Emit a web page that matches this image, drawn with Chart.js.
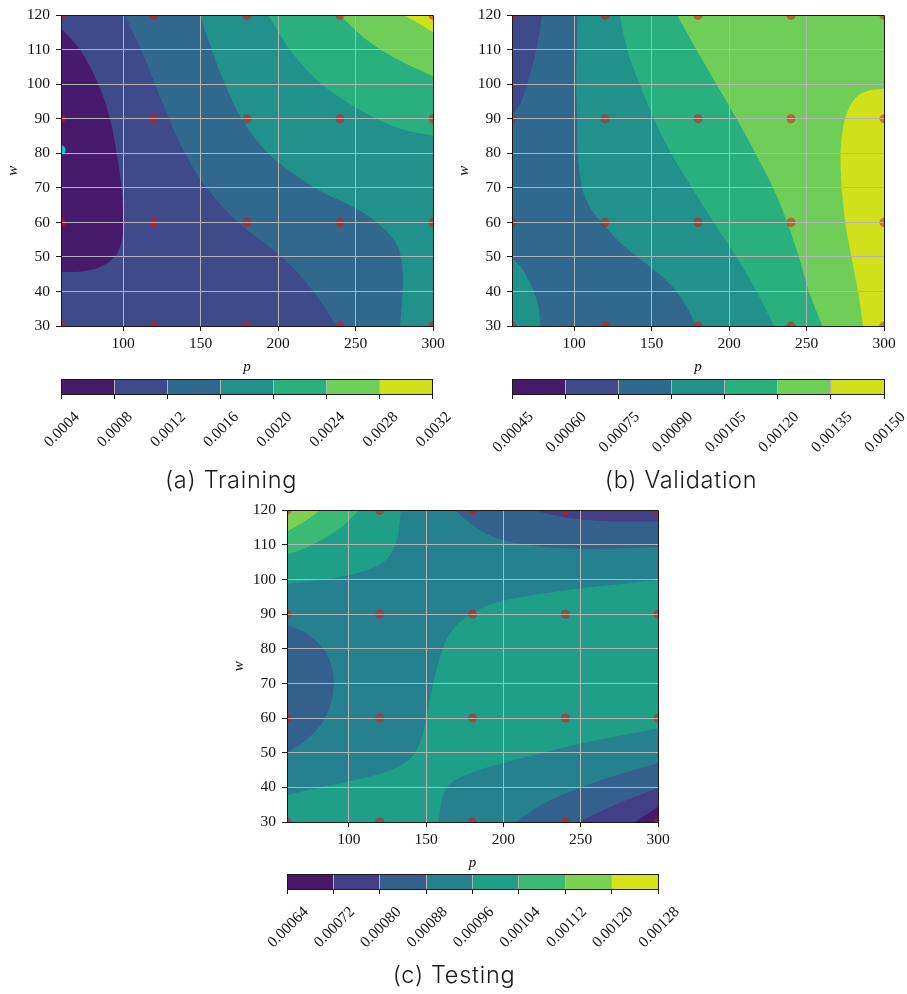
<!DOCTYPE html>
<html>
<head>
<meta charset="utf-8">
<script src="https://cdn.jsdelivr.net/npm/chart.js@4.4.1/dist/chart.umd.min.js"></script>
<style>
html,body{margin:0;padding:0;background:#fff;}
body{width:907px;height:994px;position:relative;overflow:hidden;}
canvas{position:absolute;}
.cap{position:absolute;font-family:'Inter','Open Sans',sans-serif;font-weight:300;font-size:23.5px;line-height:24px;color:#1a1a1a;white-space:nowrap;transform:translateX(-50%);letter-spacing:0.7px;}
</style>
</head>
<body>
<canvas id="pa" width="453" height="380" style="left:0px;top:0px"></canvas>
<canvas id="pb" width="456" height="380" style="left:451px;top:0px"></canvas>
<canvas id="pc" width="460" height="381" style="left:226px;top:495px"></canvas>
<canvas id="ca" width="455" height="110" style="left:0px;top:372px"></canvas>
<canvas id="cb" width="452" height="110" style="left:455px;top:372px"></canvas>
<canvas id="cc" width="460" height="110" style="left:230px;top:867px"></canvas>
<div class="cap" style="left:231px;top:468px">(a) Training</div>
<div class="cap" style="left:681px;top:468px">(b) Validation</div>
<div class="cap" style="left:454px;top:963px">(c) Testing</div>
<script>
// ---------------- data ----------------
const pSamples = [60, 120, 180, 240, 300];
const wSamples = [30, 60, 90, 120];
const bestTrain = [[60, 81]];
const pTicks = [100, 150, 200, 250, 300];
const wTicks = [30, 40, 50, 60, 70, 80, 90, 100, 110, 120];
const P_MIN = 60, P_MAX = 300, W_MIN = 30, W_MAX = 120;

const trainLevels = [0.0004, 0.0008, 0.0012, 0.0016, 0.0020, 0.0024, 0.0028, 0.0032];
const valLevels   = [0.00045, 0.00060, 0.00075, 0.00090, 0.00105, 0.00120, 0.00135, 0.00150];
const testLevels  = [0.00064, 0.00072, 0.00080, 0.00088, 0.00096, 0.00104, 0.00112, 0.00120, 0.00128];

// contour lines [p, w]
const trainC1 = [[60,116.2],[72.3,110],[84.1,100],[91.6,90],[95.9,80],[99.1,70],[100.2,60],[99.1,54.5],[94.8,50.2],[86.2,47.3],[73.3,45.8],[60,45.6]];
const trainC2 = [[101.3,120],[111.6,110],[120.6,100],[129.7,90],[140,80],[154,70],[174.4,60],[202.4,50],[222.8,40],[237.8,30]];
const trainC3 = [[149.7,120],[157.2,110],[165.8,100],[176.6,90],[193.8,80],[223.9,70],[249.7,64.2],[263.7,60],[275.5,54.5],[279.8,48.7],[280.4,39.9],[278.7,30]];
const trainC4 = [[193.8,120],[207.7,110],[228.2,100],[258.3,91.2],[279.8,87.1],[300,85.1]];
const trainC5 = [[240,120],[256.1,113.3],[275.5,107.6],[300,102.3]];
const trainC6 = [[280.9,120],[290.5,117.7],[300,115.1]];

const valC1  = [[79.4,120],[75.7,110],[69.7,100],[65,94],[60,91.3]];
const valC3a = [[102.4,120],[101.8,110],[101.5,100],[102,90],[102.4,80],[105.2,70],[110.6,64.2],[119.2,59.4],[131,53.6],[147.2,47.8],[162.2,42],[173,35.3],[178.4,30]];
const valC3b = [[60,49.9],[67.5,45.9],[74,40.1],[77.2,35.3],[78.3,30]];
const valC4  = [[129.5,120],[134.3,110],[142.4,100],[151.5,90],[162.7,80],[176.2,70],[190.2,60],[204.9,50],[217.8,40],[229,30]];
const valC5  = [[166.5,120],[179,110],[191.9,100],[204.9,90],[217.1,80],[228.5,70],[237.6,60],[245.1,50],[251.6,40],[260.2,30]];
const valC6  = [[300,98.8],[288.2,97.9],[280.6,95.5],[275.2,90.6],[272.4,83.4],[272,76.7],[273.1,68],[275.2,59.4],[279.1,49.7],[283.2,40.1],[286.6,30]];

const testA5 = [[133.7,120],[131.2,111.8],[124.7,106],[111.7,102.7],[88,100.3],[68.6,99.3],[60,98.8]];
const testA6 = [[106.4,120],[96.7,115.7],[83.7,111.8],[70.8,108.9],[60,107.3]];
const testA7 = [[81.6,120],[70.8,116.6],[60,113.9]];
const testB5up = [[60,37.7],[72.9,39.2],[98.8,41.6],[126.8,44.9],[139.8,48.3],[146.2,53.1],[150.6,60.8],[153.8,68.5],[158.1,76.2],[163.5,83],[172.1,87.8],[185.1,91.6],[206.6,94.5],[249.7,97.4],[300,99.8]];
const testB5lo = [[300,57],[249.7,52.6],[206.6,47.8],[180.7,44.4],[165.6,41.1],[160.3,36.7],[158.1,30]];
const testTR3 = [[168.9,120],[178.6,116.2],[193.7,112.3],[217.4,109.9],[249.7,108.9],[282.1,109.1],[300,109.4]];
const testTR2 = [[219.6,120],[232.5,118.6],[249.7,117.4],[271.3,116.8],[300,116.8]];
const testL3  = [[60,86.8],[70.8,84.9],[81.6,81],[88,76.2],[90.2,70],[88,63.7],[81.6,57.9],[70.8,53.1],[60,50]];
const testBR3 = [[207.7,30],[226,35.3],[260.5,41.6],[300,47.1]];
const testBR2 = [[248.7,30],[271.3,34.8],[300,39.8]];
const testBR1 = [[285.3,30],[300,34.3]];

// band index each region belongs to
const trainRegions = [
  {band:0, parts:[trainC1]},
  {band:2, parts:[trainC2,'BR','TR']},
  {band:3, parts:[trainC3,'BR','TR']},
  {band:4, parts:[trainC4,'TR']},
  {band:5, parts:[trainC5,'TR']},
  {band:6, parts:[trainC6,'TR']}
];
const valRegions = [
  {band:1, parts:[valC1,'TL']},
  {band:3, parts:[valC3a,'BR','TR']},
  {band:3, parts:[valC3b,'BL']},
  {band:4, parts:[valC4,'BR','TR']},
  {band:5, parts:[valC5,'BR','TR']},
  {band:6, parts:[valC6,'BR']}
];
const testRegions = [
  {band:4, parts:[testA5,'TL']},
  {band:5, parts:[testA6,'TL']},
  {band:6, parts:[testA7,'TL']},
  {band:4, parts:[testB5up,testB5lo,'BL']},
  {band:2, parts:[testTR3,'TR']},
  {band:2, parts:[testL3]},
  {band:2, parts:[testBR3,'BR']},
  {band:1, parts:[testTR2,'TR']},
  {band:1, parts:[testBR2,'BR']},
  {band:0, parts:[testBR1,'BR']}
];

// ---------------- styles ----------------
const V7 = ['#481a6c','#3e4a89','#31688e','#21918c','#2ab07f','#6ece58','#d0e11c'];
const V8 = ['#481769','#433e85','#34608d','#26818e','#1f9f88','#3bba75','#7cd250','#d8e219'];
const SERIF = "'Liberation Serif','DejaVu Serif',serif";
const TICK_SIZE = 15.5;
const FRAME = '#1a1a1a';
const GRIDC = '#b4b4b4';
const TXT = '#111';
const CORNER = {BL:[P_MIN-25,W_MIN-12], BR:[P_MAX+25,W_MIN-12], TR:[P_MAX+25,W_MAX+12], TL:[P_MIN-25,W_MAX+12]};

function ext(a, b){ return {x: a[0] + (a[0]-b[0])*0.6, y: a[1] + (a[1]-b[1])*0.6}; }
function polygonData(parts){
  const out = [];
  for (const part of parts) {
    if (typeof part === 'string') { const c = CORNER[part]; out.push({x:c[0], y:c[1]}); continue; }
    const n = part.length;
    out.push(ext(part[0], part[1]));
    for (const pt of part) out.push({x:pt[0], y:pt[1]});
    out.push(ext(part[n-1], part[n-2]));
  }
  return out;
}
function polyDS(parts, color, order, tension){
  return {data: polygonData(parts), showLine:true, fill:'shape', backgroundColor:color, borderColor:color,
          borderWidth:0, pointRadius:0, tension:tension, order:order, clip:0};
}

function makePlot(id, spec){
  const datasets = [];
  datasets.push(polyDS(['BL','BR','TR','TL'], spec.colors[spec.base], 1000, 0));
  spec.regions.forEach((r, i) => datasets.push(polyDS(r.parts, spec.colors[r.band], 900 - i, 0.35)));
  const samples = [];
  pSamples.forEach(p => wSamples.forEach(w => samples.push({x:p, y:w})));
  datasets.push({data:samples, pointRadius:4.6, backgroundColor:'rgba(255,0,0,0.5)', borderWidth:0, order:1, clip:0});
  if (spec.best) datasets.push({data:spec.best.map(b => ({x:b[0], y:b[1]})), pointRadius:4.6, backgroundColor:'#1cc3c9', borderWidth:0, order:0, clip:0});
  new Chart(document.getElementById(id), {
    type:'scatter',
    data:{datasets},
    options:{
      responsive:false, animation:false, events:[],
      layout:{padding:{left:0, right:spec.padRight, top:15, bottom:0}},
      plugins:{legend:{display:false}, tooltip:{enabled:false}},
      scales:{
        x:{type:'linear', min:P_MIN, max:P_MAX,
           afterBuildTicks: s => { s.ticks = pTicks.map(v => ({value:v})); },
           ticks:{font:{family:SERIF, size:TICK_SIZE}, color:TXT, padding:4, maxRotation:0, autoSkip:false},
           grid:{z:1, color: c => (c.tick && c.tick.value === P_MAX) ? FRAME : GRIDC, lineWidth:1, tickColor:FRAME, tickLength:5, tickWidth:1},
           border:{color:FRAME, width:1, z:2},
           title:{display:true, text:'p', font:{family:SERIF, size:15, style:'italic'}, color:TXT, padding:{top:0, bottom:4}},
           afterFit: s => { s.height = 54; }},
        y:{type:'linear', min:W_MIN, max:W_MAX,
           afterBuildTicks: s => { s.ticks = wTicks.map(v => ({value:v})); },
           ticks:{font:{family:SERIF, size:TICK_SIZE}, color:TXT, padding:6, autoSkip:false},
           grid:{z:1, color: c => (c.tick && c.tick.value === W_MAX) ? FRAME : GRIDC, lineWidth:1, tickColor:FRAME, tickLength:5, tickWidth:1},
           border:{color:FRAME, width:1, z:2},
           title:{display:true, text:'w', font:{family:SERIF, size:15, style:'italic'}, color:TXT, padding:{top:4, bottom:0}},
           afterFit: s => { s.width = 61; }}
      }
    }
  });
}

function makeColorbar(id, levels, colors, decimals, pad, labelOffset){
  const labels = levels.map(v => v.toFixed(decimals));
  const first = levels[0], last = levels[levels.length-1];
  new Chart(document.getElementById(id), {
    type:'bar',
    data:{labels:['cb'], datasets: colors.map((c, i) => ({data:[[levels[i], levels[i+1]]], backgroundColor:c, borderWidth:0, grouped:false, barPercentage:1, categoryPercentage:1}))},
    options:{
      indexAxis:'y', responsive:false, animation:false, events:[],
      layout:{padding:{left:pad.left, right:pad.right, top:7, bottom:0}},
      plugins:{legend:{display:false}, tooltip:{enabled:false}},
      scales:{
        x:{type:'linear', min:first, max:last,
           afterBuildTicks: s => { s.ticks = levels.map(v => ({value:v})); },
           ticks:{autoSkip:false, minRotation:45, maxRotation:45, labelOffset:labelOffset, padding:9,
                  font:{family:SERIF, size:TICK_SIZE}, color:TXT, callback:(v, i) => labels[i]},
           grid:{z:1, color: c => (c.tick && (c.tick.value === first || c.tick.value === last)) ? FRAME : GRIDC, lineWidth:1, tickColor:FRAME, tickLength:5, tickWidth:1},
           border:{color:FRAME, width:1, z:2},
           afterFit: s => { s.height = 88; }},
        y:{display:true, ticks:{display:false}, grid:{drawTicks:false, color:FRAME, z:1, offset:true}, border:{display:true, color:FRAME, z:2},
           afterFit: s => { s.width = 0; }}
      }
    }
  });
}

makePlot('pa', {colors:V7, base:1, regions:trainRegions, best:bestTrain, padRight:20});
makePlot('pb', {colors:V7, base:2, regions:valRegions, padRight:23});
makePlot('pc', {colors:V8, base:3, regions:testRegions, padRight:28});
makeColorbar('ca', trainLevels, V7, 4, {left:61, right:22}, 16);
makeColorbar('cb', valLevels, V7, 5, {left:57, right:23}, 19);
makeColorbar('cc', testLevels, V8, 5, {left:57, right:32}, 19);
</script>
</body>
</html>
